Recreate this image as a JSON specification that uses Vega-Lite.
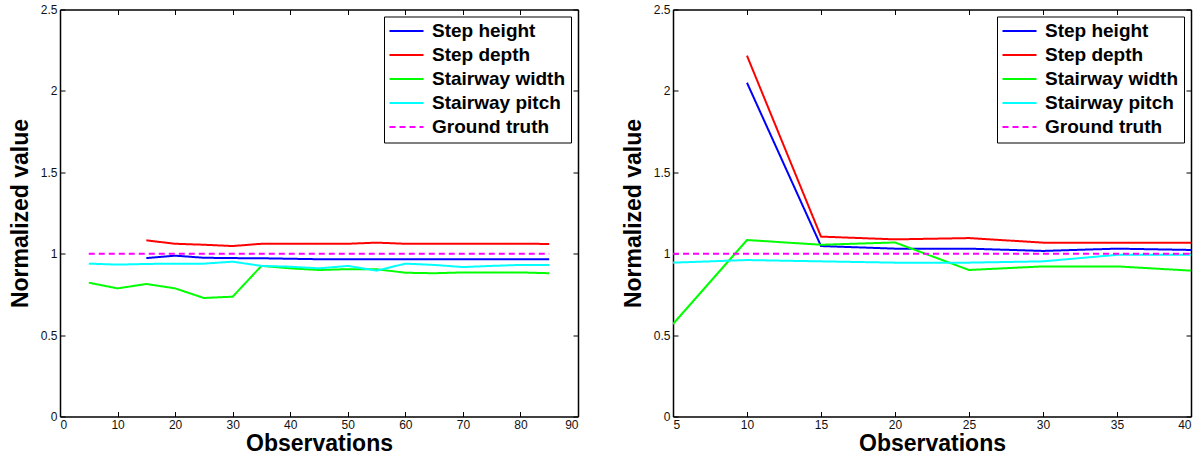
{
  "$schema": "https://vega.github.io/schema/vega-lite/v6.json",
  "padding": {"left": 9, "top": 3.5, "right": 5, "bottom": 0},
  "background": "white",
  "config": {
    "view": {"stroke": null},
    "font": "Liberation Sans",
    "axis": {"grid": false, "domainColor": "#000", "domainWidth": 1.5, "tickColor": "#000", "tickWidth": 1, "tickSize": -5, "labelFont": "Liberation Sans", "labelFontSize": 12, "labelColor": "#111", "titleFont": "Liberation Sans", "titleFontSize": 23, "titleFontWeight": "bold", "titleColor": "#000"},
    "legend": {"orient": "top-right", "offset": 7, "strokeColor": "#000", "fillColor": "#fff", "padding": 5, "cornerRadius": 0, "labelFont": "Liberation Sans", "labelFontSize": 19, "labelFontWeight": "bold", "labelColor": "#000", "labelLimit": 300, "labelOffset": 16, "symbolType": "M-3.4,0H3.4", "symbolSize": 100, "symbolOffset": 8, "symbolStrokeWidth": 2, "rowPadding": 4, "title": null}
  },
  "datasets": {
    "left": [
      {"series": "Step height", "x": 15, "y": 0.973}, {"series": "Step height", "x": 20, "y": 0.988}, {"series": "Step height", "x": 25, "y": 0.975}, {"series": "Step height", "x": 30, "y": 0.973}, {"series": "Step height", "x": 35, "y": 0.972}, {"series": "Step height", "x": 40, "y": 0.969}, {"series": "Step height", "x": 45, "y": 0.966}, {"series": "Step height", "x": 50, "y": 0.966}, {"series": "Step height", "x": 55, "y": 0.966}, {"series": "Step height", "x": 60, "y": 0.966}, {"series": "Step height", "x": 65, "y": 0.966}, {"series": "Step height", "x": 70, "y": 0.966}, {"series": "Step height", "x": 75, "y": 0.966}, {"series": "Step height", "x": 80, "y": 0.966}, {"series": "Step height", "x": 85, "y": 0.966},
      {"series": "Step depth", "x": 15, "y": 1.082}, {"series": "Step depth", "x": 20, "y": 1.061}, {"series": "Step depth", "x": 25, "y": 1.055}, {"series": "Step depth", "x": 30, "y": 1.047}, {"series": "Step depth", "x": 35, "y": 1.061}, {"series": "Step depth", "x": 40, "y": 1.061}, {"series": "Step depth", "x": 45, "y": 1.061}, {"series": "Step depth", "x": 50, "y": 1.061}, {"series": "Step depth", "x": 55, "y": 1.068}, {"series": "Step depth", "x": 60, "y": 1.061}, {"series": "Step depth", "x": 65, "y": 1.061}, {"series": "Step depth", "x": 70, "y": 1.061}, {"series": "Step depth", "x": 75, "y": 1.061}, {"series": "Step depth", "x": 80, "y": 1.061}, {"series": "Step depth", "x": 85, "y": 1.06},
      {"series": "Stairway width", "x": 5, "y": 0.822}, {"series": "Stairway width", "x": 10, "y": 0.787}, {"series": "Stairway width", "x": 15, "y": 0.814}, {"series": "Stairway width", "x": 20, "y": 0.787}, {"series": "Stairway width", "x": 25, "y": 0.728}, {"series": "Stairway width", "x": 30, "y": 0.736}, {"series": "Stairway width", "x": 35, "y": 0.925}, {"series": "Stairway width", "x": 40, "y": 0.91}, {"series": "Stairway width", "x": 45, "y": 0.9}, {"series": "Stairway width", "x": 50, "y": 0.905}, {"series": "Stairway width", "x": 55, "y": 0.905}, {"series": "Stairway width", "x": 60, "y": 0.883}, {"series": "Stairway width", "x": 65, "y": 0.88}, {"series": "Stairway width", "x": 70, "y": 0.885}, {"series": "Stairway width", "x": 75, "y": 0.885}, {"series": "Stairway width", "x": 80, "y": 0.885}, {"series": "Stairway width", "x": 85, "y": 0.88},
      {"series": "Stairway pitch", "x": 5, "y": 0.939}, {"series": "Stairway pitch", "x": 10, "y": 0.933}, {"series": "Stairway pitch", "x": 15, "y": 0.937}, {"series": "Stairway pitch", "x": 20, "y": 0.939}, {"series": "Stairway pitch", "x": 25, "y": 0.939}, {"series": "Stairway pitch", "x": 30, "y": 0.951}, {"series": "Stairway pitch", "x": 35, "y": 0.925}, {"series": "Stairway pitch", "x": 40, "y": 0.92}, {"series": "Stairway pitch", "x": 45, "y": 0.91}, {"series": "Stairway pitch", "x": 50, "y": 0.925}, {"series": "Stairway pitch", "x": 55, "y": 0.896}, {"series": "Stairway pitch", "x": 60, "y": 0.939}, {"series": "Stairway pitch", "x": 65, "y": 0.931}, {"series": "Stairway pitch", "x": 70, "y": 0.918}, {"series": "Stairway pitch", "x": 75, "y": 0.925}, {"series": "Stairway pitch", "x": 80, "y": 0.931}, {"series": "Stairway pitch", "x": 85, "y": 0.931},
      {"series": "Ground truth", "x": 5, "y": 1.0}, {"series": "Ground truth", "x": 85, "y": 1.0}
    ],
    "right": [
      {"series": "Step height", "x": 10, "y": 2.05}, {"series": "Step height", "x": 15, "y": 1.047}, {"series": "Step height", "x": 20, "y": 1.031}, {"series": "Step height", "x": 25, "y": 1.031}, {"series": "Step height", "x": 30, "y": 1.017}, {"series": "Step height", "x": 35, "y": 1.031}, {"series": "Step height", "x": 40, "y": 1.023},
      {"series": "Step depth", "x": 10, "y": 2.216}, {"series": "Step depth", "x": 15, "y": 1.105}, {"series": "Step depth", "x": 20, "y": 1.088}, {"series": "Step depth", "x": 25, "y": 1.096}, {"series": "Step depth", "x": 30, "y": 1.068}, {"series": "Step depth", "x": 35, "y": 1.068}, {"series": "Step depth", "x": 40, "y": 1.068},
      {"series": "Stairway width", "x": 5, "y": 0.568}, {"series": "Stairway width", "x": 10, "y": 1.084}, {"series": "Stairway width", "x": 15, "y": 1.055}, {"series": "Stairway width", "x": 20, "y": 1.069}, {"series": "Stairway width", "x": 25, "y": 0.9}, {"series": "Stairway width", "x": 30, "y": 0.922}, {"series": "Stairway width", "x": 35, "y": 0.922}, {"series": "Stairway width", "x": 40, "y": 0.896},
      {"series": "Stairway pitch", "x": 5, "y": 0.945}, {"series": "Stairway pitch", "x": 10, "y": 0.961}, {"series": "Stairway pitch", "x": 15, "y": 0.953}, {"series": "Stairway pitch", "x": 20, "y": 0.945}, {"series": "Stairway pitch", "x": 25, "y": 0.945}, {"series": "Stairway pitch", "x": 30, "y": 0.953}, {"series": "Stairway pitch", "x": 35, "y": 0.993}, {"series": "Stairway pitch", "x": 40, "y": 0.993},
      {"series": "Ground truth", "x": 5, "y": 1.0}, {"series": "Ground truth", "x": 40, "y": 1.0}
    ]
  },
  "hconcat": [
    {
      "width": 518, "height": 407,
      "data": {"name": "left"},
      "layer": [
        {
          "mark": {"type": "line", "strokeWidth": 2, "clip": true},
          "encoding": {
            "x": {"field": "x", "type": "quantitative", "scale": {"domain": [0, 90], "nice": false}, "axis": {"orient": "bottom", "values": [0,10,20,30,40,50,60,70,80,90], "title": "Observations", "labelPadding": 8, "titlePadding": 2}},
            "y": {"field": "y", "type": "quantitative", "scale": {"domain": [0, 2.5], "nice": false}, "axis": {"orient": "left", "values": [0,0.5,1,1.5,2,2.5], "format": "~g", "title": "Normalized value", "labelPadding": 8, "titlePadding": 8}},
            "color": {"field": "series", "type": "nominal", "scale": {"domain": ["Step height","Step depth","Stairway width","Stairway pitch","Ground truth"], "range": ["#0000ff","#ff0000","#00ff00","#00ffff","#ff00ff"]}},
            "strokeDash": {"field": "series", "type": "nominal", "scale": {"domain": ["Step height","Step depth","Stairway width","Stairway pitch","Ground truth"], "range": [[1,0],[1,0],[1,0],[1,0],[6,4]]}}
          }
        },
        {
          "mark": {"type": "line", "opacity": 0},
          "encoding": {
            "x": {"field": "x", "type": "quantitative", "axis": {"orient": "top", "values": [0,10,20,30,40,50,60,70,80,90], "labels": false, "title": null}},
            "y": {"field": "y", "type": "quantitative", "axis": {"orient": "right", "values": [0,0.5,1,1.5,2,2.5], "labels": false, "title": null}},
            "detail": {"field": "series"}
          }
        }
      ],
      "resolve": {"axis": {"x": "independent", "y": "independent"}}
    },
    {
      "width": 518, "height": 407,
      "data": {"name": "right"},
      "layer": [
        {
          "mark": {"type": "line", "strokeWidth": 2, "clip": true},
          "encoding": {
            "x": {"field": "x", "type": "quantitative", "scale": {"domain": [5, 40], "nice": false}, "axis": {"orient": "bottom", "values": [5,10,15,20,25,30,35,40], "title": "Observations", "labelPadding": 8, "titlePadding": 2}},
            "y": {"field": "y", "type": "quantitative", "scale": {"domain": [0, 2.5], "nice": false}, "axis": {"orient": "left", "values": [0,0.5,1,1.5,2,2.5], "format": "~g", "title": "Normalized value", "labelPadding": 8, "titlePadding": 8}},
            "color": {"field": "series", "type": "nominal", "scale": {"domain": ["Step height","Step depth","Stairway width","Stairway pitch","Ground truth"], "range": ["#0000ff","#ff0000","#00ff00","#00ffff","#ff00ff"]}},
            "strokeDash": {"field": "series", "type": "nominal", "scale": {"domain": ["Step height","Step depth","Stairway width","Stairway pitch","Ground truth"], "range": [[1,0],[1,0],[1,0],[1,0],[6,4]]}}
          }
        },
        {
          "mark": {"type": "line", "opacity": 0},
          "encoding": {
            "x": {"field": "x", "type": "quantitative", "axis": {"orient": "top", "values": [5,10,15,20,25,30,35,40], "labels": false, "title": null}},
            "y": {"field": "y", "type": "quantitative", "axis": {"orient": "right", "values": [0,0.5,1,1.5,2,2.5], "labels": false, "title": null}},
            "detail": {"field": "series"}
          }
        }
      ],
      "resolve": {"axis": {"x": "independent", "y": "independent"}}
    }
  ],
  "spacing": 43,
  "resolve": {"scale": {"color": "independent", "strokeDash": "independent"}, "legend": {"color": "independent", "strokeDash": "independent"}}
}
